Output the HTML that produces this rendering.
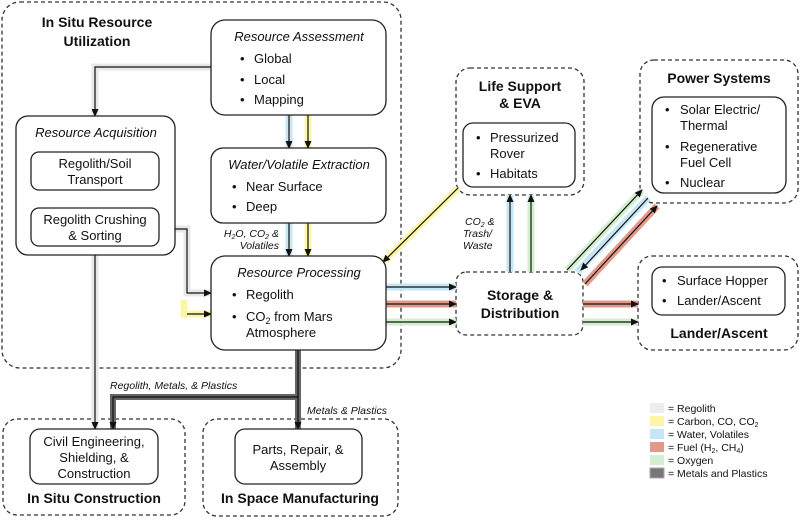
<!DOCTYPE html>
<html><head><meta charset="utf-8"><style>
body{margin:0;background:#fff;}
svg text{font-family:"Liberation Sans",Arial,sans-serif;fill:#111;}
.t{font-size:14px;font-weight:bold;}
.i{font-size:13px;font-style:italic;}
.n{font-size:13px;}
.s{font-size:10.5px;font-style:italic;}
.lg{font-size:10.5px;}
</style></head><body>
<svg width="800" height="517" viewBox="0 0 800 517" xmlns="http://www.w3.org/2000/svg">
<defs><marker id="a" markerWidth="8" markerHeight="8" refX="7" refY="4" orient="auto" markerUnits="userSpaceOnUse"><path d="M0,0.5 L8,4 L0,7.5z" fill="#111"/></marker></defs>
<g fill="none" stroke="#333" stroke-width="1.3" stroke-dasharray="4,3">
<rect x="2" y="2" width="399" height="366" rx="18"/>
<rect x="456" y="68" width="128" height="127" rx="14"/>
<rect x="640" y="60" width="158" height="143" rx="14"/>
<rect x="456" y="272" width="127" height="63" rx="10"/>
<rect x="638" y="256" width="160" height="94" rx="14"/>
<rect x="3" y="419" width="182" height="96" rx="14"/>
<rect x="203" y="419" width="195" height="97" rx="14"/>
</g>
<!-- colored bands -->
<g fill="none" stroke-width="7" stroke-linecap="butt">
<path d="M211,67 H95 V116" stroke="#e8e8e8"/>
<path d="M95,190 V208" stroke="#e8e8e8"/>
<path d="M175,229 H187 V293 H211" stroke="#e8e8e8"/>
<path d="M95,255 V429" stroke="#e8e8e8"/>
<path d="M184,300 V314 H211" stroke="#fbf6a8"/>
<path d="M289,115 V148 M289,223 V256" stroke="#c5e6f5"/>
<path d="M308,115 V148 M308,223 V256" stroke="#fbf6a8"/>
<path d="M386,287 H456" stroke="#c5e6f5"/>
<path d="M386,304 H456 M583,304 H638" stroke="#e3998a"/>
<path d="M386,322 H456 M583,322 H638" stroke="#d4efd0"/>
<path d="M510,272 V195" stroke="#c5e6f5"/>
<path d="M531,272 V195" stroke="#d4efd0"/>
<path d="M458,188 L383,262" stroke="#fbf6a8"/>
<path d="M567,270 L642,190" stroke="#d4efd0"/>
<path d="M577,272 L648,198" stroke="#c5e6f5"/>
<path d="M585,284 L657,206" stroke="#e3998a"/>
<path d="M298,350 V429 M298,397 H113 V429" stroke="#666" stroke-width="6"/>
</g>
<g fill="none" stroke="#111" stroke-width="1.2">
<path d="M211,67 H95 V116" marker-end="url(#a)"/>
<path d="M95,190 V208" marker-end="url(#a)"/>
<path d="M175,229 H187 V293 H211" marker-end="url(#a)"/>
<path d="M187,314 H211" marker-end="url(#a)"/>
<path d="M95,255 V429" marker-end="url(#a)"/>
<path d="M289,115 V148 M308,115 V148" />
<path d="M289,140 V148" marker-end="url(#a)"/><path d="M308,140 V148" marker-end="url(#a)"/>
<path d="M289,223 V256" marker-end="url(#a)"/><path d="M308,223 V256" marker-end="url(#a)"/>
<path d="M386,287 H456" marker-end="url(#a)"/>
<path d="M386,304 H456" marker-end="url(#a)"/>
<path d="M386,322 H456" marker-end="url(#a)"/>
<path d="M583,304 H638" marker-end="url(#a)"/>
<path d="M583,322 H638" marker-end="url(#a)"/>
<path d="M510,272 V195" marker-end="url(#a)"/>
<path d="M531,272 V195" marker-end="url(#a)"/>
<path d="M458,188 L383,262" marker-end="url(#a)"/>
<path d="M567,270 L642,190" marker-end="url(#a)"/>
<path d="M648,198 L581,270" marker-end="url(#a)"/>
<path d="M585,284 L657,206" marker-end="url(#a)"/>
<path d="M298,350 V429" marker-end="url(#a)"/>
<path d="M298,397 H113 V429" marker-end="url(#a)"/>
</g>
<!-- solid boxes -->
<g fill="#fff" stroke="#222" stroke-width="1.3">
<rect x="211" y="20" width="175" height="95" rx="14"/>
<rect x="16" y="116" width="159" height="139" rx="12"/>
<rect x="31" y="152" width="128" height="38" rx="8"/>
<rect x="31" y="208" width="128" height="38" rx="8"/>
<rect x="211" y="148" width="175" height="75" rx="12"/>
<rect x="211" y="256" width="175" height="94" rx="14"/>
<rect x="463" y="123" width="112" height="64" rx="10"/>
<rect x="652" y="97" width="134" height="96" rx="12"/>
<rect x="652" y="267" width="133" height="48" rx="10"/>
<rect x="30" y="429" width="128" height="55" rx="10"/>
<rect x="235" y="429" width="127" height="55" rx="10"/>
</g>
<text class="t" x="97" y="27" text-anchor="middle">In Situ Resource</text>
<text class="t" x="97" y="46" text-anchor="middle">Utilization</text>
<text class="i" x="299" y="41" text-anchor="middle">Resource Assessment</text>
<text class="n" x="240" y="63">•</text><text class="n" x="254" y="63">Global</text>
<text class="n" x="240" y="84">•</text><text class="n" x="254" y="84">Local</text>
<text class="n" x="240" y="104">•</text><text class="n" x="254" y="104">Mapping</text>
<text class="i" x="96" y="137" text-anchor="middle">Resource Acquisition</text>
<text class="n" x="95" y="168" text-anchor="middle">Regolith/Soil</text>
<text class="n" x="95" y="184" text-anchor="middle">Transport</text>
<text class="n" x="95" y="224" text-anchor="middle">Regolith Crushing</text>
<text class="n" x="95" y="240" text-anchor="middle">&amp; Sorting</text>
<text class="i" x="299" y="169" text-anchor="middle">Water/Volatile Extraction</text>
<text class="n" x="232" y="191">•</text><text class="n" x="246" y="191">Near Surface</text>
<text class="n" x="232" y="211">•</text><text class="n" x="246" y="211">Deep</text>
<text class="s" x="279" y="237" text-anchor="end">H<tspan font-size="7" dy="2">2</tspan><tspan dy="-2">O, CO</tspan><tspan font-size="7" dy="2">2</tspan><tspan dy="-2"> &amp;</tspan></text>
<text class="s" x="279" y="249" text-anchor="end">Volatiles</text>
<text class="i" x="299" y="277" text-anchor="middle">Resource Processing</text>
<text class="n" x="232" y="299">•</text><text class="n" x="246" y="299">Regolith</text>
<text class="n" x="232" y="321">•</text><text class="n" x="246" y="321">CO<tspan font-size="9" dy="3">2</tspan><tspan dy="-3"> from Mars</tspan></text>
<text class="n" x="246" y="337">Atmosphere</text>
<text class="t" x="520" y="91" text-anchor="middle">Life Support</text>
<text class="t" x="520" y="108" text-anchor="middle">&amp; EVA</text>
<text class="n" x="476" y="142">•</text><text class="n" x="490" y="142">Pressurized</text>
<text class="n" x="490" y="158">Rover</text>
<text class="n" x="476" y="178">•</text><text class="n" x="490" y="178">Habitats</text>
<text class="t" x="719" y="83" text-anchor="middle">Power Systems</text>
<text class="n" x="665" y="114">•</text><text class="n" x="680" y="114">Solar Electric/</text>
<text class="n" x="680" y="130">Thermal</text>
<text class="n" x="665" y="151">•</text><text class="n" x="680" y="151">Regenerative</text>
<text class="n" x="680" y="167">Fuel Cell</text>
<text class="n" x="665" y="187">•</text><text class="n" x="680" y="187">Nuclear</text>
<text class="s" x="465" y="225">CO<tspan font-size="7" dy="2">2</tspan><tspan dy="-2"> &amp;</tspan></text>
<text class="s" x="463" y="237">Trash/</text>
<text class="s" x="463" y="249">Waste</text>
<text class="t" x="520" y="300" text-anchor="middle">Storage &amp;</text>
<text class="t" x="520" y="318" text-anchor="middle">Distribution</text>
<text class="n" x="662" y="285">•</text><text class="n" x="677" y="285">Surface Hopper</text>
<text class="n" x="662" y="305">•</text><text class="n" x="677" y="305">Lander/Ascent</text>
<text class="t" x="719" y="338" text-anchor="middle">Lander/Ascent</text>
<text class="s" x="110" y="389">Regolith, Metals, &amp; Plastics</text>
<text class="s" x="307" y="414">Metals &amp; Plastics</text>
<text class="n" x="94" y="446" text-anchor="middle">Civil Engineering,</text>
<text class="n" x="94" y="462" text-anchor="middle">Shielding, &amp;</text>
<text class="n" x="94" y="478" text-anchor="middle">Construction</text>
<text class="n" x="298" y="454" text-anchor="middle">Parts, Repair, &amp;</text>
<text class="n" x="298" y="470" text-anchor="middle">Assembly</text>
<text class="t" x="94" y="503" text-anchor="middle">In Situ Construction</text>
<text class="t" x="300" y="503" text-anchor="middle">In Space Manufacturing</text>
<g>
<rect x="650" y="403" width="14" height="10" fill="#ececec"/>
<rect x="650" y="416" width="14" height="10" fill="#fbf6a8"/>
<rect x="650" y="429" width="14" height="10" fill="#c5e6f5"/>
<rect x="650" y="442" width="14" height="10" fill="#e3998a"/>
<rect x="650" y="455" width="14" height="10" fill="#d4efd0"/>
<rect x="650" y="468" width="14" height="10" fill="#777" stroke="#aaa"/>
</g>
<text class="lg" x="668" y="412">= Regolith</text>
<text class="lg" x="668" y="425">= Carbon, CO, CO<tspan font-size="7" dy="2">2</tspan></text>
<text class="lg" x="668" y="438">= Water, Volatiles</text>
<text class="lg" x="668" y="451">= Fuel (H<tspan font-size="7" dy="2">2</tspan><tspan dy="-2">, CH</tspan><tspan font-size="7" dy="2">4</tspan><tspan dy="-2">)</tspan></text>
<text class="lg" x="668" y="464">= Oxygen</text>
<text class="lg" x="668" y="477">= Metals and Plastics</text>
</svg>
</body></html>
